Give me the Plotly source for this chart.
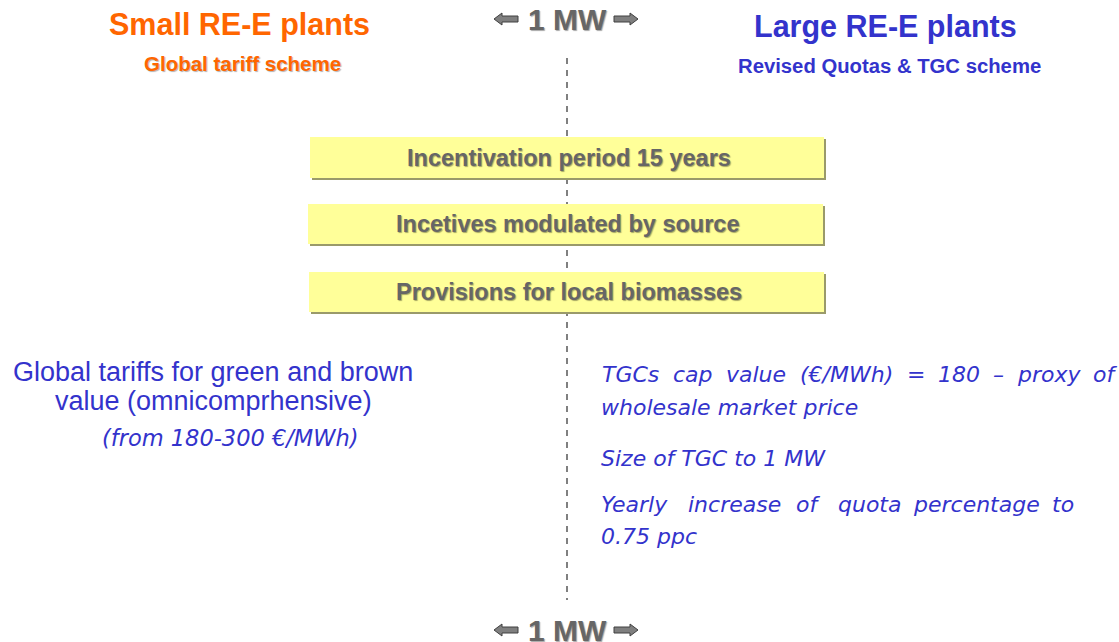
import plotly.graph_objects as go

W, H = 1119, 642

# ---- content ----
left_title = "Small RE-E plants"
left_subtitle = "Global tariff scheme"
right_title = "Large RE-E plants"
right_subtitle = "Revised Quotas & TGC scheme"
threshold_label = "1 MW"
box_labels = ["Incentivation period 15 years",
              "Incetives modulated by source",
              "Provisions for local biomasses"]
left_lines = ["Global tariffs for green and brown",
              "value (omnicomprhensive)"]
left_note = "(from 180-300 €/MWh)"
right_line1_words = ["TGCs", "cap", "value", "(€/MWh)", "=", "180", "–", "proxy", "of"]
right_line2 = "wholesale market price"
right_line3 = "Size of TGC to 1 MW"
right_line4_words = ["Yearly", "increase", "of", "quota", "percentage", "to"]
right_line5 = "0.75 ppc"

# ---- styles / layout ----
ORANGE = "#FF6600"
BLUE = "#3333CC"
GREY_TXT = "#666666"
YELLOW = "#FFFF99"
SHADOW = "1px 1px 1px rgba(0,0,0,0.35)"
SANS = "Liberation Sans, Arial, sans-serif"
VERD = "DejaVu Sans, Verdana, sans-serif"

fig = go.Figure()
fig.add_trace(go.Scatter(x=[0, W], y=[0, H], mode="markers",
                         marker=dict(opacity=0), hoverinfo="skip", showlegend=False))

shapes = []
annotations = []

def text(x, y, s, size, color, family=SANS, bold=False, italic=False,
         xanchor="center", shadow=None):
    f = dict(size=size, color=color, family=family)
    if bold:
        f["weight"] = "bold"
    if italic:
        f["style"] = "italic"
    if shadow:
        f["shadow"] = shadow
    annotations.append(dict(x=x, y=y, xref="x", yref="y", text=s, showarrow=False,
                            xanchor=xanchor, yanchor="middle", font=f))

# dashed divider
cx = 567
shapes.append(dict(type="line", x0=cx, x1=cx, y0=58, y1=600, xref="x", yref="y",
                   line=dict(color="#808080", width=2, dash="6px,6px"), layer="below"))

# boxes
box_geo = [(310, 824, 137, 178), (308, 823, 204, 244), (309, 824, 272, 312)]
for (x0, x1, y0, y1), lab in zip(box_geo, box_labels):
    shapes.append(dict(type="rect", x0=x0 + 2, x1=x1 + 2, y0=y0 + 2, y1=y1 + 2,
                       fillcolor="#9a9a6a", line=dict(width=0), layer="below"))
    shapes.append(dict(type="rect", x0=x0, x1=x1, y0=y0, y1=y1,
                       fillcolor=YELLOW, line=dict(width=0), layer="below"))
    text((x0 + x1) / 2 + 2, (y0 + y1) / 2, lab, 23.5, GREY_TXT, bold=True, shadow=SHADOW)

# headers
text(239, 24, left_title, 30.5, ORANGE, bold=True)
text(242, 63, left_subtitle, 20.5, ORANGE, bold=True, shadow="1px 1px 1px rgba(0,0,0,0.3)")
text(885, 26, right_title, 30.5, BLUE, bold=True)
text(889, 66, right_subtitle, 20.3, BLUE, bold=True)

# 1 MW markers with block arrows
def arrows(yc):
    text(cx, yc, threshold_label, 30, GREY_TXT, bold=True, shadow=SHADOW)
    lx0, lx1 = 494, 518
    path_l = (f"M {lx0},{yc} L {lx0+8},{yc-6} L {lx0+8},{yc-3} L {lx1},{yc-3} "
              f"L {lx1},{yc+3} L {lx0+8},{yc+3} L {lx0+8},{yc+6} Z")
    rx0, rx1 = 614, 638
    path_r = (f"M {rx1},{yc} L {rx1-8},{yc-6} L {rx1-8},{yc-3} L {rx0},{yc-3} "
              f"L {rx0},{yc+3} L {rx1-8},{yc+3} L {rx1-8},{yc+6} Z")
    for p in (path_l, path_r):
        shapes.append(dict(type="path", path=p, xref="x", yref="y",
                           fillcolor="#7f7f7f", line=dict(color="#404040", width=1)))

arrows(19)
arrows(630)

# left body text
text(213, 372, left_lines[0], 27, BLUE)
text(213, 401, left_lines[1], 27, BLUE)
text(230, 438, left_note, 22.5, BLUE, family=VERD, italic=True)

# right body text (justified lines placed word by word)
RS = 22
line1_x = [600, 671, 724, 798, 905, 936, 991, 1015, 1091]
for w, x in zip(right_line1_words, line1_x):
    text(x, 374, w, RS, BLUE, family=VERD, italic=True, xanchor="left")
text(599, 407, right_line2, RS, BLUE, family=VERD, italic=True, xanchor="left")
text(599, 458, right_line3, RS, BLUE, family=VERD, italic=True, xanchor="left")
line4_x = [599, 686, 794, 836, 911, 1050]
for w, x in zip(right_line4_words, line4_x):
    text(x, 504, w, RS, BLUE, family=VERD, italic=True, xanchor="left")
text(599, 536, right_line5, RS, BLUE, family=VERD, italic=True, xanchor="left")

fig.update_layout(
    width=W, height=H, margin=dict(l=0, r=0, t=0, b=0),
    paper_bgcolor="white", plot_bgcolor="white",
    xaxis=dict(range=[0, W], visible=False, fixedrange=True),
    yaxis=dict(range=[H, 0], visible=False, fixedrange=True),
    shapes=shapes, annotations=annotations, showlegend=False,
)
fig.write_html("out.html", config={"displayModeBar": False},
               post_script="document.body.style.margin='0';document.body.style.overflow='hidden';")
